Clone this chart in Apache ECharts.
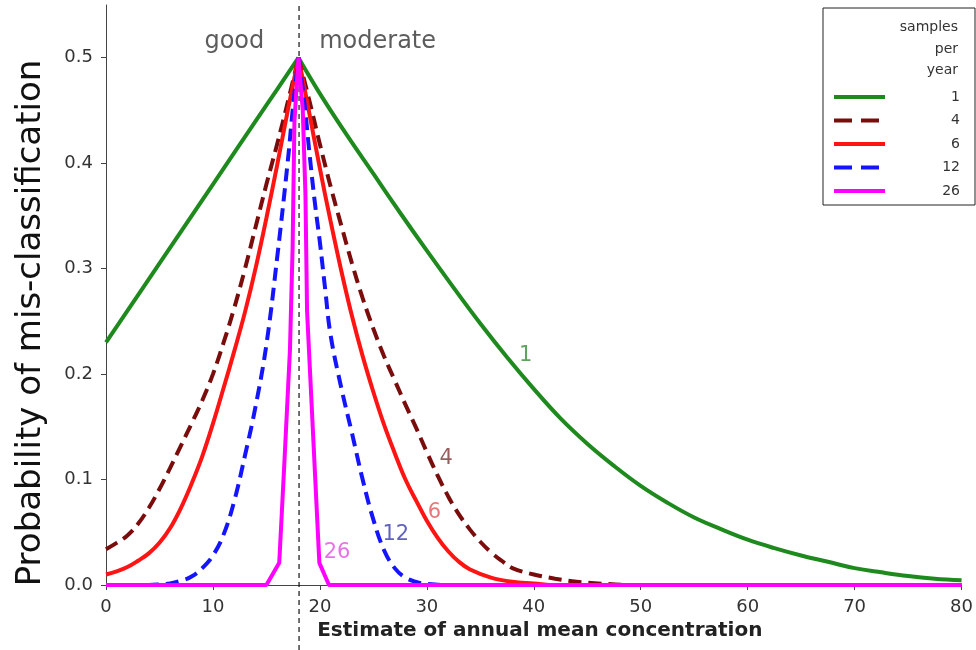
<!DOCTYPE html>
<html><head><meta charset="utf-8">
<script src="https://cdn.jsdelivr.net/npm/echarts@6/dist/echarts.min.js"></script>
<style>html,body{margin:0;padding:0;background:#fff}#c{width:976px;height:650px}</style>
</head><body><div id="c"></div>
<script>
// ---- data ----
const boundary = 18;                       // good / moderate class boundary
const xTicks = [0, 10, 20, 30, 40, 50, 60, 70, 80];
const yTicks = [0, 0.1, 0.2, 0.3, 0.4, 0.5];
const seriesNames = ['1', '4', '6', '12', '26'];   // samples per year

const n1X = [0,5,10,15,18,20,22.5,25,27.5,30,32.5,35,37.5,40,42.5,45,47.5,50,52.5,55,57.5,60,62.5,65,67.5,70,72.5,75,77.5,80];
const n1Y = [0.23,0.305,0.38,0.455,0.5,0.466,0.427,0.39,0.353,0.317,0.282,0.248,0.216,0.186,0.158,0.134,0.113,0.094,0.078,0.064,0.053,0.043,0.035,0.028,0.022,0.016,0.012,0.0085,0.006,0.0045];

const n4X = [0,1,2,3,4,5,6,7,8,9,10,11,12,13,14,15,16,17,18,19,20,21,22,23,24,25,26,27,28,29,30,31,32,33,34,35,36,37,38,40,42,44,46,49,80];
const n4Y = [0.034,0.04,0.047,0.058,0.073,0.091,0.111,0.132,0.153,0.175,0.2,0.23,0.263,0.3,0.34,0.38,0.418,0.458,0.5,0.46,0.418,0.378,0.341,0.305,0.272,0.243,0.217,0.194,0.171,0.149,0.126,0.104,0.084,0.067,0.053,0.041,0.031,0.023,0.016,0.01,0.006,0.003,0.0015,0,0];

const n6X = [0,1,2,3,4,5,6,7,8,9,10,11,12,13,14,15,16,17,18,19,20,21,22,23,24,25,26,27,28,29,30,31,32,33,34,36,38,40,42,80];
const n6Y = [0.01,0.013,0.017,0.023,0.03,0.04,0.054,0.073,0.096,0.122,0.153,0.187,0.222,0.259,0.301,0.348,0.398,0.45,0.5,0.448,0.395,0.345,0.298,0.255,0.217,0.183,0.152,0.125,0.1,0.08,0.061,0.045,0.032,0.022,0.015,0.007,0.003,0.0015,0,0];

const n12X = [0,4,5,6,7,8,9,10,11,12,13,14,15,16,17,17.5,18,18.5,19,19.5,20,20.5,21,22,23,24,25,26,27,28,29,30,32,80];
const n12Y = [0,0,0.0005,0.0015,0.004,0.008,0.016,0.028,0.048,0.08,0.123,0.17,0.228,0.31,0.402,0.455,0.5,0.462,0.412,0.365,0.325,0.28,0.237,0.187,0.144,0.1,0.062,0.033,0.016,0.007,0.003,0.001,0,0];

const n26X = [0,15,16.2,16.7,17.2,17.45,17.62,18,18.4,18.65,18.8,19.95,20.85,80];
const n26Y = [0,0,0.021,0.12,0.223,0.32,0.44,0.5,0.45,0.37,0.26,0.021,0,0];

const curveLabelText = ['1', '4', '6', '12', '26'];
const curveLabelX = [39.25, 31.8, 30.7, 27.1, 21.6];
const curveLabelY = [0.218, 0.12, 0.069, 0.048, 0.031];

const regionText = ['good', 'moderate'];
const regionX = [12.0, 25.4];
const regionY = [0.515, 0.515];

// ---- styles ----
const lineColors = ['#1e8a1e', '#7a0c0c', '#ff1414', '#1414ff', '#ff00ff'];
const lineTypes = ['solid', [13, 7], 'solid', [13, 7], 'solid'];
const smoothing = [0.4, 0.4, 0.4, 0.4, 0];
const labelColors = ['#3a8a3a', '#7b3535', '#e05858', '#3a3aae', '#e050e0'];
const FONT = 'DejaVu Sans';

const xs = [n1X, n4X, n6X, n12X, n26X];
const ys = [n1Y, n4Y, n6Y, n12Y, n26Y];
const zip = (a, b) => a.map((v, i) => [v, b[i]]);

// each curve is drawn as two halves (left / right of the class boundary) so the peak stays sharp
const curveSeries = [];
seriesNames.forEach((name, i) => {
  const pts = zip(xs[i], ys[i]);
  const halves = smoothing[i] > 0
    ? [pts.filter(p => p[0] <= boundary), pts.filter(p => p[0] >= boundary)]
    : [pts];
  halves.forEach(h => curveSeries.push({
    name: name,
    type: 'line',
    data: h,
    symbol: 'none',
    showSymbol: false,
    smooth: smoothing[i],
    z: 3,
    lineStyle: { color: lineColors[i], width: 4, type: lineTypes[i] },
    itemStyle: { color: lineColors[i] }
  }));
});

const chart = echarts.init(document.getElementById('c'), null, { renderer: 'canvas' });
chart.setOption({
  animation: false,
  backgroundColor: '#fff',
  grid: [
    { left: 106, right: 12, top: 5, bottom: 65 },
    { left: 106, right: 12, top: 5, bottom: 0 }
  ],
  xAxis: [
    {
      type: 'value', min: xTicks[0], max: xTicks[xTicks.length - 1], interval: 10,
      axisLine: { show: true, lineStyle: { color: '#444', width: 1 } },
      axisTick: { show: true, length: 5, lineStyle: { color: '#444' } },
      axisLabel: { fontFamily: FONT, fontSize: 18, color: '#333', margin: 13 },
      splitLine: { show: false },
      name: 'Estimate of annual mean concentration',
      nameLocation: 'middle', nameGap: 35,
      nameTextStyle: { fontFamily: FONT, fontWeight: 'bold', fontSize: 20, color: '#222', padding: [0, 0, 0, 12] }
    },
    { gridIndex: 1, type: 'value', min: 0, max: 80, show: false }
  ],
  yAxis: [
    {
      type: 'value', min: 0, max: 0.55,
      axisLine: { show: true, lineStyle: { color: '#444', width: 1 } },
      axisTick: { show: true, length: 5, lineStyle: { color: '#444' }, customValues: yTicks },
      axisLabel: { fontFamily: FONT, fontSize: 18, color: '#333', margin: 13, customValues: yTicks,
                   formatter: v => v.toFixed(1) },
      splitLine: { show: false },
      name: 'Probability of mis-classification',
      nameLocation: 'middle', nameGap: 58,
      nameTextStyle: { fontFamily: FONT, fontSize: 34, color: '#111', padding: [0, 56, 0, 0] }
    },
    { gridIndex: 1, type: 'value', min: 0, max: 1, show: false }
  ],
  legend: {
    orient: 'vertical', left: 823, top: 8,
    padding: [82, 15, 7, 9],
    itemWidth: 51, itemHeight: 14, itemGap: 9.5,
    backgroundColor: '#fff', borderColor: '#222', borderWidth: 1,
    selectedMode: false,
    itemStyle: { opacity: 0 },
    data: seriesNames.map((n, i) => ({
      name: n,
      itemStyle: { opacity: 0 },
      lineStyle: { width: 4, type: lineTypes[i] === 'solid' ? 'solid' : [18, 9] }
    })),
    formatter: name => '{n|' + name + '}',
    textStyle: { rich: { n: { width: 70, align: 'right', fontFamily: FONT, fontSize: 14, color: '#333', lineHeight: 14 } } }
  },
  graphic: [
    { type: 'text', x: 958, y: 27, z: 100, style: { text: 'samples', align: 'right', verticalAlign: 'middle', font: '14px "DejaVu Sans"', fill: '#333' } },
    { type: 'text', x: 958, y: 49, z: 100, style: { text: 'per', align: 'right', verticalAlign: 'middle', font: '14px "DejaVu Sans"', fill: '#333' } },
    { type: 'text', x: 958, y: 70, z: 100, style: { text: 'year', align: 'right', verticalAlign: 'middle', font: '14px "DejaVu Sans"', fill: '#333' } }
  ],
  series: [
    {
      type: 'line', xAxisIndex: 1, yAxisIndex: 1, silent: true, z: 1,
      data: [[boundary, 0], [boundary, 1]],
      symbol: 'none',
      lineStyle: { color: '#111', width: 1.2, type: [5, 4] }
    },
    ...curveSeries,
    {
      type: 'scatter', silent: true, z: 5,
      symbolSize: 1, itemStyle: { color: 'rgba(0,0,0,0)' },
      data: curveLabelX.map((x, i) => ({
        value: [x, curveLabelY[i]],
        label: { show: true, position: 'inside', formatter: curveLabelText[i], color: labelColors[i],
                 fontFamily: FONT, fontSize: 21 }
      }))
    },
    {
      type: 'scatter', silent: true, z: 5,
      symbolSize: 1, itemStyle: { color: 'rgba(0,0,0,0)' },
      data: regionX.map((x, i) => ({
        value: [x, regionY[i]],
        label: { show: true, position: 'inside', formatter: regionText[i], color: '#333',
                 fontFamily: FONT, fontSize: 24 }
      }))
    }
  ]
});
</script>
</body></html>
